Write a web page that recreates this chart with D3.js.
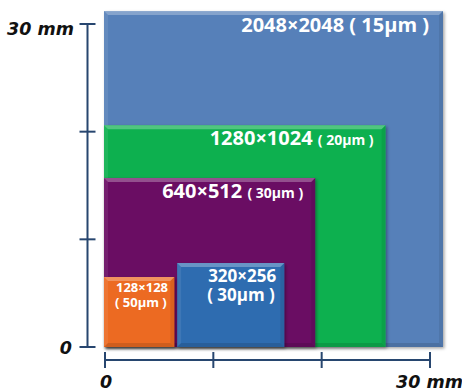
<!DOCTYPE html>
<html>
<head>
<meta charset="utf-8">
<script src="https://cdn.jsdelivr.net/npm/d3@7"></script>
<style>
  body { margin: 0; background: #fff; }
  .lbl { font-family: "Open Sans", sans-serif; font-weight: bold; fill: #fff; }
  .axis-txt { font-family: "DejaVu Sans", sans-serif; font-weight: bold; font-style: italic; fill: #111; }
</style>
</head>
<body>
<div id="chart"></div>
<script>
// sensor formats, sizes (mm)
const formats = ["2048×2048", "1280×1024", "640×512", "320×256", "128×128"];
const pitches = ["( 15µm )", "( 20µm )", "( 30µm )", "( 30µm )", "( 50µm )"];
const xStart = [0, 0, 0, 6.75, 0];
const widths = [31.2, 25.9, 19.4, 9.8, 6.4];
const heights = [31.2, 20.6, 15.7, 7.8, 6.5];
const colors = ["#5680b9", "#10b04f", "#6a0a63", "#2f6cb0", "#ec6a24"];
const ticks = [0, 10, 20, 30];

const W = 462, H = 392;
const svg = d3.select("#chart").append("svg").attr("width", W).attr("height", H);

const x = d3.scaleLinear().domain([0, 30]).range([105, 430]);
const y = d3.scaleLinear().domain([0, 30]).range([347, 24]);

const defs = svg.append("defs");
defs.append("filter").attr("id", "shadow")
  .attr("x", "-10%").attr("y", "-10%").attr("width", "130%").attr("height", "130%")
  .append("feDropShadow")
  .attr("dx", 1.5).attr("dy", 1.5).attr("stdDeviation", 1.5)
  .attr("flood-color", "#000").attr("flood-opacity", 0.35);

// rectangles, biggest first
const bev = 4;
formats.forEach((f, i) => {
  const x0 = x(xStart[i]) - 1, x1 = x(xStart[i] + widths[i]);
  const y0 = y(heights[i]), y1 = y(0);
  const g = svg.append("g");
  g.append("rect")
    .attr("x", x0).attr("y", y0)
    .attr("width", x1 - x0).attr("height", y1 - y0)
    .attr("fill", colors[i])
    .attr("filter", "url(#shadow)");
  // bevel edges
  g.append("path")
    .attr("d", `M${x0},${y0}L${x1},${y0}L${x1 - bev},${y0 + bev}L${x0 + bev},${y0 + bev}Z`)
    .attr("fill", "#fff").attr("opacity", 0.28);
  g.append("path")
    .attr("d", `M${x1},${y0}L${x1},${y1}L${x1 - bev},${y1 - bev}L${x1 - bev},${y0 + bev}Z`)
    .attr("fill", "#000").attr("opacity", 0.08);
  g.append("path")
    .attr("d", `M${x0},${y1}L${x1},${y1}L${x1 - bev},${y1 - bev}L${x0 + bev},${y1 - bev}Z`)
    .attr("fill", "#000").attr("opacity", 0.12);
  g.append("path")
    .attr("d", `M${x0},${y0}L${x0 + bev},${y0 + bev}L${x0 + bev},${y1 - bev}L${x0},${y1}Z`)
    .attr("fill", "#fff").attr("opacity", 0.08);
});

// labels
function rectBox(i) {
  return {
    left: x(xStart[i]), right: x(xStart[i] + widths[i]),
    top: y(heights[i])
  };
}
let b = rectBox(0);
svg.append("text").attr("class", "lbl")
  .attr("x", b.right - 14).attr("y", b.top + 21)
  .attr("text-anchor", "end").style("font-size", "20px")
  .text(formats[0] + " " + pitches[0]);

[1, 2].forEach(i => {
  b = rectBox(i);
  const t = svg.append("text").attr("class", "lbl")
    .attr("x", b.right - 12).attr("y", b.top + 20)
    .attr("text-anchor", "end");
  t.append("tspan").style("font-size", "20px").text(formats[i] + " ");
  t.append("tspan").style("font-size", "14px").text(pitches[i]);
});

// two-line labels as one text with tspans
function twoLine(i, size, dxTop, dyTop, lineGap) {
  const bx = rectBox(i);
  const t = svg.append("text").attr("class", "lbl").style("font-size", size + "px");
  t.append("tspan").attr("x", bx.left + dxTop).attr("y", bx.top + dyTop).text(formats[i]);
  t.append("tspan").attr("x", bx.left + dxTop - 1).attr("y", bx.top + dyTop + lineGap).text(pitches[i]);
}
twoLine(3, 17, 30, 19, 19);
twoLine(4, 13, 11, 15, 15);

// axes
const axisColor = "#27466f";
const yAx = 87.5, xAx = 360, cap = 8;
svg.append("line")
  .attr("x1", yAx).attr("x2", yAx).attr("y1", y(30)).attr("y2", y(0))
  .attr("stroke", axisColor).attr("stroke-width", 2);
svg.selectAll(".ytick").data(ticks).enter().append("line")
  .attr("x1", yAx - cap).attr("x2", yAx + cap)
  .attr("y1", d => y(d)).attr("y2", d => y(d))
  .attr("stroke", axisColor).attr("stroke-width", 2);

svg.append("line")
  .attr("x1", x(0)).attr("x2", x(30)).attr("y1", xAx).attr("y2", xAx)
  .attr("stroke", axisColor).attr("stroke-width", 2);
svg.selectAll(".xtick").data(ticks).enter().append("line")
  .attr("x1", d => x(d)).attr("x2", d => x(d))
  .attr("y1", xAx - cap).attr("y2", xAx + cap)
  .attr("stroke", axisColor).attr("stroke-width", 2);

svg.append("text").attr("class", "axis-txt").style("font-size", "17.5px")
  .attr("x", 74).attr("y", 35).attr("text-anchor", "end").text("30 mm");
svg.append("text").attr("class", "axis-txt").style("font-size", "17.5px")
  .attr("x", 72).attr("y", 354).attr("text-anchor", "end").text("0");
svg.append("text").attr("class", "axis-txt").style("font-size", "17.5px")
  .attr("x", 100).attr("y", 388).text("0");
svg.append("text").attr("class", "axis-txt").style("font-size", "17.5px")
  .attr("x", 396).attr("y", 388).text("30 mm");
</script>
</body>
</html>
